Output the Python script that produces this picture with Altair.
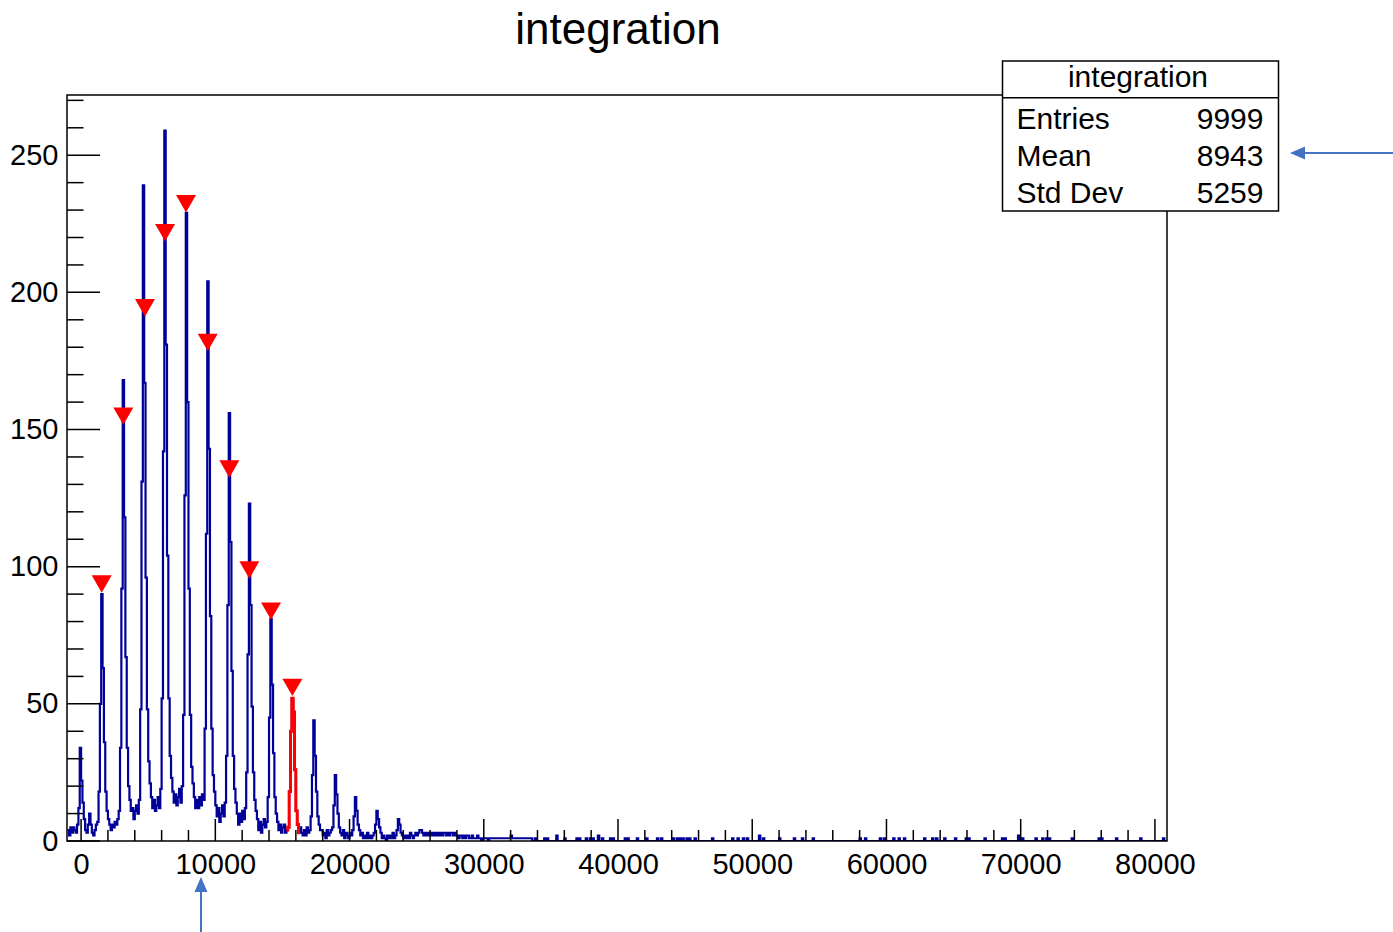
import altair as alt
import pandas as pd

FONT = "Liberation Sans"

# ---------------- histogram contents (bin width 100) ----------------
BIN_START = -1000
BIN_WIDTH = 100
N_BINS = 820  # -1000 .. 81000

counts_m1000 = [4, 2, 5, 3, 5, 4, 3, 6, 12, 34, 22, 14, 8, 4, 3, 6, 10, 6, 3, 2,
                4, 6, 7, 18, 50, 90, 63, 36, 18, 11, 8, 6, 4, 6, 5, 7, 6, 8, 11, 34,
                92, 168, 118, 67, 34, 20, 15, 11, 12, 8]
counts_4000 = [11, 13, 10, 15, 48, 131, 239, 167, 96, 48, 29, 21, 16, 12, 15, 11, 13, 16, 12, 19,
               52, 142, 259, 181, 104, 52, 31, 23, 18, 14, 17, 13, 16, 19, 14, 20, 46, 126, 229, 160,
               92, 46, 27, 21, 16, 12, 15, 12, 16, 13]
counts_9000 = [17, 15, 41, 112, 204, 143, 82, 41, 24, 18, 13, 9, 12, 7, 10, 13, 9, 14, 31, 86,
               156, 109, 62, 31, 19, 14, 10, 6, 10, 7, 11, 8, 12, 25, 68, 123, 86, 49, 25, 15,
               11, 8, 4, 7, 3, 6, 8, 5, 7, 16]
counts_14000 = [45, 81, 57, 32, 16, 10, 7, 4, 6, 3, 5, 6, 3, 4, 5, 18, 40, 52, 47, 26,
                11, 6, 3, 5, 3, 2, 4, 2, 5, 3, 4, 9, 24, 44, 31, 18, 9, 6, 4, 4,
                2, 3, 1, 4, 2, 3, 4, 5, 13, 24]
counts_19000 = [17, 10, 5, 3, 2, 4, 1, 3, 2, 1, 3, 2, 4, 9, 16, 11, 6, 4, 2, 3,
                1, 2, 1, 3, 1, 2, 1, 2, 3, 6, 11, 8, 5, 3, 1, 2, 1, 0, 2, 1,
                2, 1, 3, 1, 2, 4, 8, 6, 3, 2]
counts_24000 = [1, 2, 1, 2, 1, 3, 2, 1, 2, 3, 2, 3, 4, 4, 3, 2, 3, 2, 3, 2,
                3, 2, 3, 2, 3, 2, 3, 2, 3, 2, 3, 3, 2, 3, 2, 3, 3, 2, 3, 2,
                2, 1, 2, 2, 1, 2, 1, 2, 2, 1]
counts_29000 = [1, 2, 1, 1, 1, 2, 1, 1, 0, 1, 1, 1, 1, 0, 1, 1, 1, 1, 1, 1,
                1, 1, 1, 1, 1, 1, 1, 1, 1, 1, 2, 1, 1, 1, 1, 1, 1, 1, 1, 1,
                1, 1, 1, 1, 1, 1, 0, 0, 1, 0]

# isolated entries in the far tail (left bin edge, content)
tail_bins = [34500, 34700, 35400, 36000, 36900, 37100, 37600, 37900, 38100, 38500,
             38800, 39400, 39600, 40500, 40700, 41400, 42100, 42900, 43200, 44100,
             44400, 44600, 44800, 45100, 45300, 45700, 47000, 48500, 48900, 49300,
             49600, 50500, 50800, 52000, 53100, 53700, 54500, 58000, 58400, 59500,
             59800, 60500, 60900, 61300, 62800, 63400, 63700, 64300, 65100, 65900,
             66100, 67300, 68600, 68800, 69800, 70100, 71100, 71600, 71900, 72100,
             73800, 75800, 76000, 77100, 78900, 80600]
tail_counts = [1, 1, 2, 1, 1, 1, 1, 1, 1, 2,
               1, 1, 1, 1, 1, 1, 1, 1, 1, 1,
               1, 1, 1, 1, 1, 1, 1, 1, 1, 1,
               1, 2, 1, 1, 1, 1, 1, 1, 1, 1,
               1, 1, 1, 1, 1, 1, 1, 1, 1, 1,
               1, 1, 1, 1, 2, 1, 1, 1, 1, 1,
               1, 1, 1, 1, 1, 1]

# range drawn in red
red_lo = 15300
red_hi = 16300

# peak markers found by the peak search
peak_x = [1535, 3145, 4760, 6255, 7815, 9435, 11045, 12535, 14150, 15740]
peak_y = [93.7, 154.9, 194.4, 221.8, 232.3, 181.8, 135.6, 98.8, 83.8, 56.0]

# axes
x_domain = [-1050, 80900]
y_domain = [0, 271.95]
x_major = [0, 10000, 20000, 30000, 40000, 50000, 60000, 70000, 80000]
x_minor = [2000, 4000, 6000, 8000, 12000, 14000, 16000, 18000, 22000, 24000, 26000, 28000,
           32000, 34000, 36000, 38000, 42000, 44000, 46000, 48000, 52000, 54000, 56000, 58000,
           62000, 64000, 66000, 68000, 72000, 74000, 76000, 78000]
y_major = [0, 50, 100, 150, 200, 250]
y_minor = [10, 20, 30, 40, 60, 70, 80, 90, 110, 120, 130, 140, 160, 170, 180, 190,
           210, 220, 230, 240, 260, 270]

title_text = "integration"
stat_title = "integration"
stat_names = ["Entries", "Mean", "Std Dev"]
stat_values = ["9999", "8943", "5259"]

# ---------------- build tables ----------------
dense = (counts_m1000 + counts_4000 + counts_9000 + counts_14000 +
         counts_19000 + counts_24000 + counts_29000)
counts = [0] * N_BINS
for i, c in enumerate(dense):
    counts[i] = c
for xb, c in zip(tail_bins, tail_counts):
    counts[(xb - BIN_START) // BIN_WIDTH] = c
edges = [BIN_START + BIN_WIDTH * i for i in range(N_BINS + 1)]
hist = pd.DataFrame({"edge": edges, "count": counts + [0]})

red = hist[(hist["edge"] >= red_lo) & (hist["edge"] < red_hi)].copy()
red = pd.concat([red, pd.DataFrame({"edge": [red_hi], "count": [red["count"].iloc[-1]]})])

W, H = 1100, 746
BLUE = "#000099"
ARROW = "#4472C4"

x_scale = alt.Scale(domain=x_domain, nice=False, zero=False)
y_scale = alt.Scale(domain=y_domain, nice=False, zero=False)
x_axis = alt.Axis(values=x_major, format="d", labelFont=FONT, labelFontSize=29,
                  labelColor="black", labelPadding=9, ticks=False, tickSize=0,
                  domain=False, grid=False, title="", labelFlush=False,
                  labelOverlap=False)
y_axis = alt.Axis(values=y_major, format="d", labelFont=FONT, labelFontSize=29,
                  labelColor="black", labelPadding=9, ticks=False, tickSize=0,
                  domain=False, grid=False, title="", labelFlush=False,
                  labelOverlap=False)


def X(f):
    return alt.X(f, scale=x_scale, axis=x_axis)


def Y(f):
    return alt.Y(f, scale=y_scale, axis=y_axis)


one = pd.DataFrame({"k": [0]})

hist_line = alt.Chart(hist).mark_line(
    interpolate="step-after", color=BLUE, strokeWidth=2.2, clip=True
).encode(x=X("edge:Q"), y=Y("count:Q"))

red_line = alt.Chart(red).mark_line(
    interpolate="step-after", color="#ff0000", strokeWidth=3, clip=True
).encode(x=X("edge:Q"), y=Y("count:Q"))

markers = alt.Chart(pd.DataFrame({"px": peak_x, "py": peak_y})).mark_point(
    shape="triangle-down", filled=True, color="#ff0000", size=400, opacity=1, strokeWidth=0
).encode(x=X("px:Q"), y=Y("py:Q"))

xt_major = alt.Chart(pd.DataFrame({"v": x_major})).mark_rule(color="black", strokeWidth=1.5).encode(
    x=X("v:Q"), y=alt.value(H), y2=alt.value(H - 22))
xt_minor = alt.Chart(pd.DataFrame({"v": x_minor})).mark_rule(color="black", strokeWidth=1.5).encode(
    x=X("v:Q"), y=alt.value(H), y2=alt.value(H - 11))
yt_major = alt.Chart(pd.DataFrame({"v": y_major})).mark_rule(color="black", strokeWidth=1.5).encode(
    y=Y("v:Q"), x=alt.value(0), x2=alt.value(33))
yt_minor = alt.Chart(pd.DataFrame({"v": y_minor})).mark_rule(color="black", strokeWidth=1.5).encode(
    y=Y("v:Q"), x=alt.value(0), x2=alt.value(16.5))

frame = alt.Chart(one).mark_rect(fillOpacity=0, stroke="black", strokeWidth=1.5).encode(
    x=alt.value(0), x2=alt.value(W), y=alt.value(0), y2=alt.value(H))

# statistics box
bx0, bx1, by0, by1 = 935.5, 1211.5, -34, 116
stat_box = alt.Chart(one).mark_rect(fill="white", stroke="black", strokeWidth=1.5).encode(
    x=alt.value(bx0), x2=alt.value(bx1), y=alt.value(by0), y2=alt.value(by1))
stat_sep = alt.Chart(one).mark_rule(color="black", strokeWidth=1.5).encode(
    x=alt.value(bx0), x2=alt.value(bx1), y=alt.value(2.7))
stat_head = alt.Chart(pd.DataFrame({"t": [stat_title]})).mark_text(
    font=FONT, fontSize=30, align="center", baseline="alphabetic", color="black"
).encode(text="t:N", x=alt.value(1071), y=alt.value(-8.5))

row_y = [33.5, 70.5, 108.0]
stat_layers = []
for name, val, ry in zip(stat_names, stat_values, row_y):
    d = pd.DataFrame({"n": [name], "v": [val]})
    stat_layers.append(alt.Chart(d).mark_text(
        font=FONT, fontSize=30, align="left", baseline="alphabetic", color="black"
    ).encode(text="n:N", x=alt.value(949.5), y=alt.value(ry)))
    stat_layers.append(alt.Chart(d).mark_text(
        font=FONT, fontSize=30, align="right", baseline="alphabetic", color="black"
    ).encode(text="v:N", x=alt.value(1196.5), y=alt.value(ry)))

title = alt.Chart(pd.DataFrame({"t": [title_text]})).mark_text(
    font=FONT, fontSize=44, align="center", baseline="alphabetic", color="black"
).encode(text="t:N", x=alt.value(551), y=alt.value(-51))

# annotation arrows
arrow_h = alt.Chart(one).mark_rule(color=ARROW, strokeWidth=2).encode(
    x=alt.value(1235), x2=alt.value(1326), y=alt.value(58))
head_h = alt.Chart(one).mark_point(
    shape="M -1 0 L 1 -0.87 L 1 0.87 Z", filled=True, color=ARROW, size=225, opacity=1, strokeWidth=0
).encode(x=alt.value(1230.5), y=alt.value(58))
arrow_v = alt.Chart(one).mark_rule(color=ARROW, strokeWidth=2).encode(
    x=alt.value(134), y=alt.value(792), y2=alt.value(837))
head_v = alt.Chart(one).mark_point(
    shape="M 0 -1 L -0.87 1 L 0.87 1 Z", filled=True, color=ARROW, size=225, opacity=1, strokeWidth=0
).encode(x=alt.value(134), y=alt.value(789.5))

chart = alt.layer(
    hist_line, red_line, markers, xt_major, xt_minor, yt_major, yt_minor, frame,
    stat_box, stat_sep, stat_head, *stat_layers, title, arrow_h, head_h, arrow_v, head_v
).properties(
    width=W, height=H,
    padding={"left": 67, "top": 95, "right": 226, "bottom": 91},
    autosize=alt.AutoSizeParams(type="none"),
    background="white",
).configure_view(stroke="transparent")

chart.save("out.html", embed_options={"renderer": "svg", "actions": False})
